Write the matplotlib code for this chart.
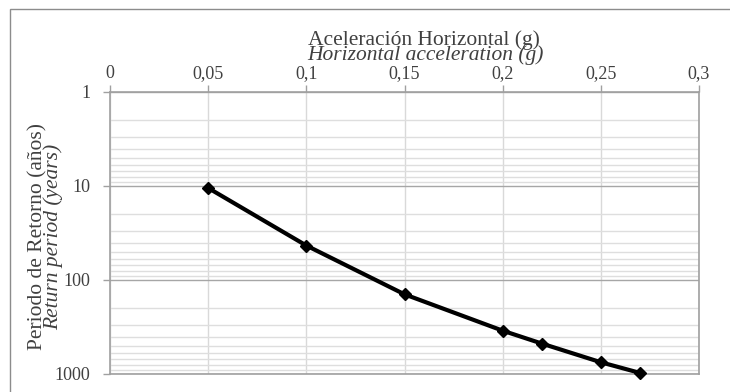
import matplotlib.pyplot as plt
import matplotlib.ticker as mticker
from matplotlib.patches import Rectangle

# aceleracion horizontal (g) vs periodo de retorno (años)
acel = [0.05, 0.10, 0.15, 0.20, 0.22, 0.25, 0.27]
periodo = [10.5, 43, 142, 346, 475, 750, 975]

xticks = [0, 0.05, 0.1, 0.15, 0.2, 0.25, 0.3]
xlabels = ['0', '0,05', '0,1', '0,15', '0,2', '0,25', '0,3']
yticks = [1, 10, 100, 1000]
ylabels = ['1', '10', '100', '1000']

plt.rcParams['font.family'] = ['Liberation Serif', 'DejaVu Serif']

W, H = 730, 392
fig = plt.figure(figsize=(W / 100, H / 100), dpi=100)
ax = fig.add_axes([110 / W, 1 - 374 / H, (699 - 110) / W, (374 - 92) / H])

# outer frame
fig.patches.append(Rectangle((10 / W, -0.2), 1.2, 1.2 - 9 / H, transform=fig.transFigure,
                             fill=False, edgecolor='#8c8c8c', linewidth=1.0))

ax.plot(acel, periodo, color='black', linewidth=3, marker='D', markersize=6, zorder=5,
        clip_on=False)

ax.set_yscale('log')
ax.set_ylim(1000, 1)
ax.set_xlim(0, 0.3)

ax.xaxis.tick_top()
ax.set_xticks(xticks)
ax.set_xticklabels(xlabels)
ax.set_yticks(yticks)
ax.set_yticklabels(ylabels)
ax.yaxis.set_minor_locator(mticker.LogLocator(base=10, subs=range(2, 10)))
ax.yaxis.set_minor_formatter(mticker.NullFormatter())

ax.tick_params(axis='x', which='major', length=5, width=1, color='#a0a0a0', pad=2,
               labelsize=13, labelcolor='#404040')
ax.tick_params(axis='y', which='major', length=5, width=1, color='#a0a0a0', pad=9,
               labelsize=13, labelcolor='#404040')
ax.tick_params(axis='y', which='minor', length=0)

ax.grid(True, axis='x', which='major', color='#d9d9d9', linewidth=1)
ax.grid(True, axis='y', which='major', color='#a6a6a6', linewidth=1)
ax.grid(True, axis='y', which='minor', color='#dedede', linewidth=1)
ax.set_axisbelow(True)

for s in ax.spines.values():
    s.set_color('#a0a0a0')
    s.set_linewidth(1.2)

fig.text(424 / W, 1 - 40 / H, 'Aceleración Horizontal (g)', ha='center', va='center',
         fontsize=15.5, color='#404040')
fig.text(425 / W, 1 - 55 / H, 'Horizontal acceleration (g)', ha='center', va='center',
         fontsize=15.5, style='italic', color='#404040')
fig.text(38 / W, 1 - 236 / H, 'Periodo de Retorno (años)', ha='center', va='center',
         fontsize=15.5, rotation=90, color='#404040')
fig.text(53 / W, 1 - 237 / H, 'Return period (years)', ha='center', va='center',
         fontsize=15.5, rotation=90, style='italic', color='#404040')

fig.savefig('out.png', dpi=100)
